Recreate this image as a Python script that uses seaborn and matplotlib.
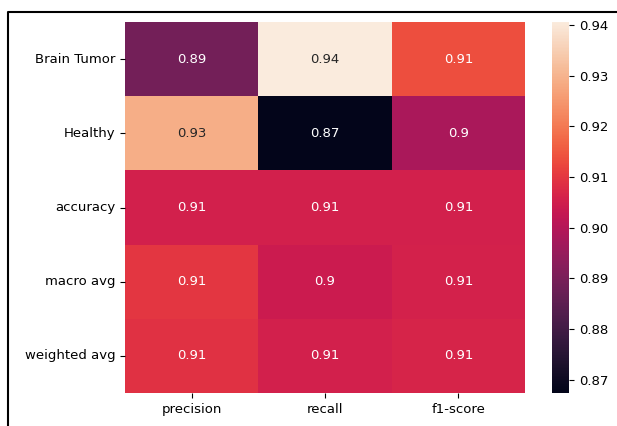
import matplotlib
matplotlib.use("Agg")
import matplotlib.pyplot as plt
import seaborn as sns
import numpy as np
import pandas as pd
from matplotlib.lines import Line2D

# classification report values
rows = ['Brain Tumor', 'Healthy', 'accuracy', 'macro avg', 'weighted avg']
cols = ['precision', 'recall', 'f1-score']
precision = [0.889, 0.929, 0.9055, 0.910, 0.909]
recall = [0.9406, 0.8674, 0.9055, 0.904, 0.9055]
f1_score = [0.9135, 0.8980, 0.9055, 0.906, 0.9063]

report = pd.DataFrame({'precision': precision, 'recall': recall, 'f1-score': f1_score},
                      index=rows)[cols]

W, H = 617, 426
fig = plt.figure(figsize=(W / 100, H / 100), dpi=100)
ax = fig.add_axes([125 / W, 1 - 393 / H, 400 / W, 371 / H])
cax = fig.add_axes([552 / W, 1 - 393 / H, 17 / W, 371 / H])

sns.heatmap(report, annot=True, ax=ax, cbar_ax=cax)
ax.tick_params(labelsize=9.5)
cax.tick_params(labelsize=9.5)
for t in ax.texts:
    t.set_fontsize(9.5)

# screenshot frame
fig.add_artist(Line2D([8 / W, 8 / W, 1], [0, 1 - 12 / H, 1 - 12 / H],
                      transform=fig.transFigure, color='black', lw=1.5))

fig.savefig('out.png', dpi=100)
